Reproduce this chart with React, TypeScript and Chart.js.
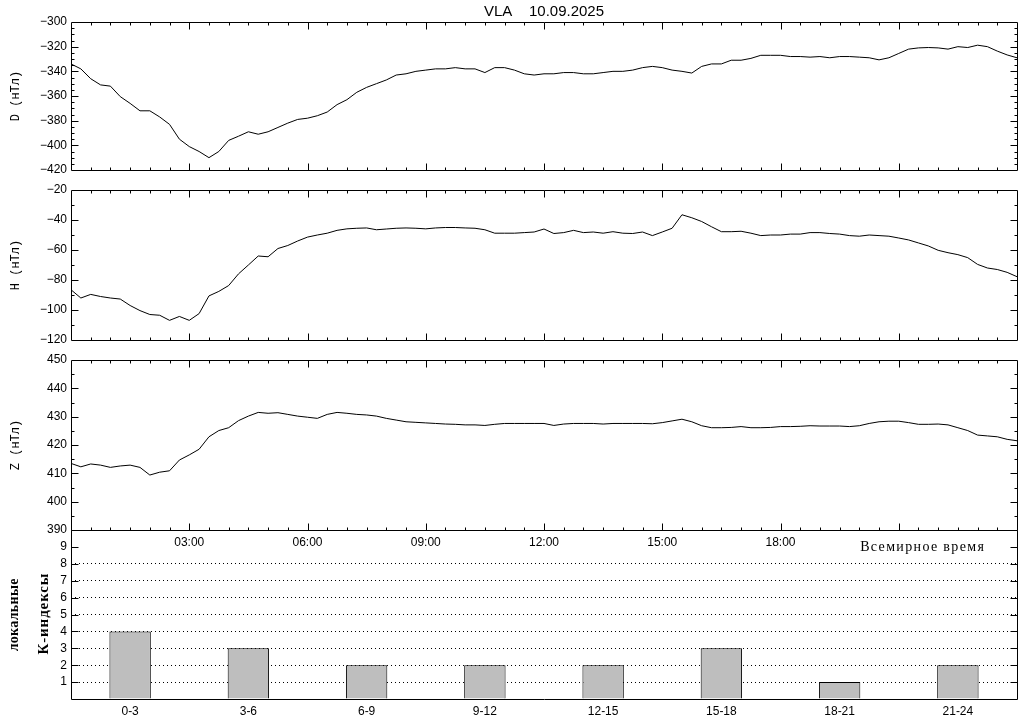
import React, { useEffect, useRef } from "react";
import { Chart, registerables } from "chart.js";

Chart.register(...registerables);

const FONT = "'Liberation Sans', Arial, sans-serif";
const MONO = "'Liberation Mono', 'DejaVu Sans Mono', monospace";
const SERIF = "'Liberation Serif', 'DejaVu Serif', serif";

const TITLE = "VLA    10.09.2025";

// time in hours, 15-minute samples over the day
const TIMES_H = Array.from({ length: 97 }, (_, i) => i / 4);

const D_VALUES = [
  -334, -338, -346, -351, -352, -360.5, -366, -372, -372, -377, -383, -395, -401, -405, -410, -405,
  -396, -392.6, -389, -391, -389, -385.5, -382, -379, -378, -376, -373, -367, -363, -357, -353, -350,
  -347, -343, -342, -340, -339, -338, -338, -337, -338, -338, -341, -337, -337, -339, -342, -343,
  -342, -342, -341, -341, -342, -342, -341, -340, -340, -339, -337, -336, -337, -339, -340, -341.4,
  -336, -334, -334, -331, -331, -329.5, -327, -327, -327, -328, -328, -328.5, -328, -329, -328, -328,
  -328.5, -329, -330.7, -329, -325.5, -322, -321, -320.7, -321, -322, -320, -320.7, -318.8, -320, -323.6, -326.7,
  -329,
];

const H_VALUES = [
  -86.5, -92, -89.6, -91, -92, -92.7, -97, -100.4, -103, -103.5, -106.9, -104.3, -106.9, -102.4, -90.6, -87.6,
  -83.7, -75.9, -70, -64, -64.5, -59, -57, -54, -51.4, -50, -48.8, -46.9, -45.9, -45.5, -45.3, -46.5,
  -46, -45.5, -45.3, -45.5, -45.9, -45.3, -45, -45, -45.3, -45.5, -46.5, -48.8, -48.8, -48.8, -48.4, -48,
  -46, -49, -48.4, -46.9, -48.4, -48, -48.8, -47.8, -48.8, -49, -48, -50.4, -48, -45.5, -36.5, -38.5,
  -41, -44.5, -47.8, -47.8, -47.5, -48.8, -50.4, -50, -50, -49.4, -49.4, -48.4, -48.4, -49, -49.4, -50.4,
  -50.8, -50, -50.4, -50.8, -52, -53.3, -55.3, -57.3, -60.2, -61.8, -63.1, -65.1, -69.6, -72, -73, -74.9,
  -77.8,
];

const Z_VALUES = [
  413.5, 412.3, 413.3, 412.9, 412.1, 412.6, 412.9, 412.1, 409.4, 410.4, 410.9, 414.7, 416.5, 418.5, 422.9, 425.1,
  426.1, 428.6, 430.2, 431.5, 431.2, 431.4, 430.8, 430.2, 429.8, 429.4, 430.8, 431.5, 431.2, 430.8, 430.6, 430.2,
  429.4, 428.8, 428.2, 428, 427.8, 427.6, 427.4, 427.3, 427.1, 427.1, 426.9, 427.3, 427.6, 427.6, 427.6, 427.6,
  427.6, 426.9, 427.4, 427.6, 427.6, 427.6, 427.4, 427.6, 427.6, 427.6, 427.6, 427.5, 427.9, 428.5, 429.1, 428.2,
  426.8, 426.1, 426.1, 426.2, 426.5, 426.1, 426.1, 426.2, 426.5, 426.5, 426.6, 426.8, 426.7, 426.7, 426.7, 426.5,
  426.8, 427.6, 428.2, 428.4, 428.4, 427.9, 427.3, 427.3, 427.4, 427.1, 426.1, 425.1, 423.5, 423.2, 422.9, 422,
  421.5,
];

const K_LABELS = ["0-3", "3-6", "6-9", "9-12", "12-15", "15-18", "18-21", "21-24"];
const K_VALUES = [4, 3, 2, 2, 2, 3, 1, 2];

const TIME_TICK_HOURS = [3, 6, 9, 12, 15, 18];

// layout (pixels)
const LEFT = 71;
const RIGHT_PAD = 7;
const PANELS = [
  { top: 22, bottom: 190 },
  { top: 190, bottom: 360 },
  { top: 360, bottom: 530 },
  { top: 530, bottom: 699 },
];

const fmtNum = (v: number) => (v < 0 ? "\u2212" + Math.abs(v) : String(v));

const framePlugin = {
  id: "frame",
  afterDatasetsDraw(chart: any, _args: any, opts: any) {
    const { ctx, chartArea: a } = chart;
    const ys = chart.scales.y;
    ctx.save();
    ctx.strokeStyle = "#000";
    ctx.lineWidth = 1;
    ctx.setLineDash([]);
    ctx.beginPath();
    const L = Math.round(a.left) + 0.5;
    const R = Math.round(a.right) + 0.5;
    const T = Math.round(a.top) + 0.5;
    const B = Math.round(a.bottom) + 0.5;
    ctx.rect(L, T, R - L, B - T);
    if (opts.timeTicks) {
      const xs = chart.scales.x;
      for (let m = 1; m < 48; m++) {
        const px = Math.round(xs.getPixelForValue(m / 2)) + 0.5;
        const len = m % 6 === 0 ? 7 : 3;
        ctx.moveTo(px, T);
        ctx.lineTo(px, T + len);
        ctx.moveTo(px, B);
        ctx.lineTo(px, B - len);
      }
    }
    for (const t of opts.yTicks || []) {
      const py = Math.round(ys.getPixelForValue(t.v)) + 0.5;
      const len = t.major ? 7 : 3;
      ctx.moveTo(L, py);
      ctx.lineTo(L + len, py);
      ctx.moveTo(R, py);
      ctx.lineTo(R - len, py);
    }
    ctx.stroke();
    for (const t of opts.texts || []) {
      ctx.save();
      ctx.translate(t.x, t.y);
      if (t.rot) ctx.rotate(t.rot);
      ctx.font = t.font;
      ctx.fillStyle = "#000";
      ctx.textAlign = "center";
      ctx.textBaseline = "middle";
      if (t.width) {
        (ctx as any).letterSpacing = "0px";
        const w = ctx.measureText(t.text).width;
        const ls = (t.width - w) / t.text.length;
        (ctx as any).letterSpacing = ls.toFixed(2) + "px";
        ctx.fillText(t.text, ls / 2, 0);
      } else {
        ctx.fillText(t.text, 0, 0);
      }
      ctx.restore();
    }
    ctx.restore();
  },
};

function yTickList(min: number, max: number, minor: number, major: number) {
  const out: { v: number; major: boolean }[] = [];
  const n = Math.round((max - min) / minor);
  for (let i = 1; i < n; i++) {
    const v = min + i * minor;
    const q = (v - min) / major;
    out.push({ v, major: Math.abs(q - Math.round(q)) < 1e-6 });
  }
  return out;
}

function lineConfig(
  values: number[],
  min: number,
  max: number,
  step: number,
  minor: number,
  label: string,
  panel: { top: number; bottom: number },
  withTitle: boolean,
  withTimeLabels: boolean
): any {
  const xAxisH = 20;
  return {
    type: "line",
    data: {
      datasets: [
        {
          data: TIMES_H.map((t, i) => ({ x: t, y: values[i] })),
          borderColor: "#000",
          borderWidth: 1,
          pointRadius: 0,
          tension: 0,
          fill: false,
        },
      ],
    },
    options: {
      responsive: false,
      animation: false,
      devicePixelRatio: 1,
      events: [],
      layout: {
        padding: {
          left: 0,
          right: RIGHT_PAD,
          top: withTitle ? 0 : panel.top,
          bottom: 720 - panel.bottom - (withTimeLabels ? xAxisH : 0),
        },
      },
      plugins: {
        legend: { display: false },
        tooltip: { enabled: false },
        title: {
          display: withTitle,
          text: TITLE,
          fullSize: false,
          color: "#000",
          font: { family: FONT, size: 15, weight: "normal" },
          padding: { top: 3, bottom: 1 },
        },
        frame: {
          timeTicks: true,
          yTicks: yTickList(min, max, minor, step),
        },
      },
      scales: {
        x: {
          type: "linear",
          min: 0,
          max: 24,
          display: withTimeLabels,
          grid: { display: false, drawTicks: false },
          border: { display: false },
          ticks: {
            stepSize: 3,
            autoSkip: false,
            maxRotation: 0,
            padding: 5,
            color: "#000",
            font: { family: FONT, size: 12 },
            callback: (v: any) => {
              const n = Number(v);
              return TIME_TICK_HOURS.includes(n) ? (n < 10 ? "0" : "") + n + ":00" : "";
            },
          },
          afterFit: (s: any) => {
            s.height = xAxisH;
          },
        },
        y: {
          type: "linear",
          min,
          max,
          grid: { display: false, drawTicks: false },
          border: { display: false },
          ticks: {
            stepSize: step,
            autoSkip: false,
            padding: 4,
            color: "#000",
            font: { family: FONT, size: 12 },
            callback: (v: any) => fmtNum(Number(v)),
          },
          title: {
            display: true,
            text: label,
            color: "#000",
            font: { family: MONO, size: 12 },
            padding: { top: 9, bottom: 0 },
          },
          afterFit: (s: any) => {
            s.width = LEFT;
          },
        },
      },
    },
    plugins: [framePlugin],
  };
}

function kConfig(): any {
  const panel = PANELS[3];
  const xAxisH = 21;
  return {
    type: "bar",
    data: {
      labels: K_LABELS,
      datasets: [
        {
          data: K_VALUES,
          backgroundColor: "#bebebe",
          borderColor: "#000",
          borderWidth: 1,
          categoryPercentage: 1,
          barPercentage: 0.35,
        },
      ],
    },
    options: {
      responsive: false,
      animation: false,
      devicePixelRatio: 1,
      events: [],
      layout: {
        padding: { left: 0, right: RIGHT_PAD, top: panel.top, bottom: 720 - panel.bottom - xAxisH },
      },
      plugins: {
        legend: { display: false },
        tooltip: { enabled: false },
        frame: {
          timeTicks: false,
          yTicks: [1, 2, 3, 4, 5, 6, 7, 8, 9].map((v) => ({ v, major: true })),
          texts: [
            { text: "локальные", x: 14, y: 615, rot: -Math.PI / 2, font: `bold 14px ${SERIF}`, width: 73 },
            { text: "К-индексы", x: 44, y: 614, rot: -Math.PI / 2, font: `bold 15px ${SERIF}`, width: 82 },
            { text: "Всемирное время", x: 922, y: 547, rot: 0, font: `14px ${SERIF}`, width: 125 },
          ],
        },
      },
      scales: {
        x: {
          grid: { display: false, drawTicks: false },
          border: { display: false },
          ticks: { autoSkip: false, maxRotation: 0, padding: 5, color: "#000", font: { family: FONT, size: 12 } },
          afterFit: (s: any) => {
            s.height = xAxisH;
          },
        },
        y: {
          min: 0,
          max: 10,
          grid: {
            drawTicks: false,
            lineWidth: 1,
            color: (c: any) =>
              c.tick && c.tick.value >= 1 && c.tick.value <= 8 ? "#000" : "rgba(0,0,0,0)",
          },
          border: { display: false, dash: [1, 3] },
          ticks: {
            stepSize: 1,
            autoSkip: false,
            padding: 4,
            color: "#000",
            font: { family: FONT, size: 12 },
            callback: (v: any) => {
              const n = Number(v);
              return n >= 1 && n <= 9 ? String(n) : "";
            },
          },
          afterFit: (s: any) => {
            s.width = LEFT;
          },
        },
      },
    },
    plugins: [framePlugin],
  };
}

export default function App() {
  const r0 = useRef<HTMLCanvasElement>(null);
  const r1 = useRef<HTMLCanvasElement>(null);
  const r2 = useRef<HTMLCanvasElement>(null);
  const r3 = useRef<HTMLCanvasElement>(null);
  const refs = [r0, r1, r2, r3];

  useEffect(() => {
    const cfgs = [
      lineConfig(D_VALUES, -420, -300, 20, 5, "D (нТл)", PANELS[0], true, false),
      lineConfig(H_VALUES, -120, -20, 20, 10, "H (нТл)", PANELS[1], false, false),
      lineConfig(Z_VALUES, 390, 450, 10, 5, "Z (нТл)", PANELS[2], false, true),
      kConfig(),
    ];
    const charts = cfgs.map((cfg, i) => new Chart(refs[i].current as HTMLCanvasElement, cfg));
    return () => charts.forEach((c) => c.destroy());
  }, []);

  return (
    <div
      style={{
        position: "fixed",
        left: 0,
        top: 0,
        width: 1024,
        height: 720,
        background: "#fff",
        overflow: "hidden",
      }}
    >
      {refs.map((r, i) => (
        <canvas
          key={i}
          ref={r}
          width={1024}
          height={720}
          style={{ position: "absolute", left: 0, top: 0, display: "block" }}
        />
      ))}
    </div>
  );
}
